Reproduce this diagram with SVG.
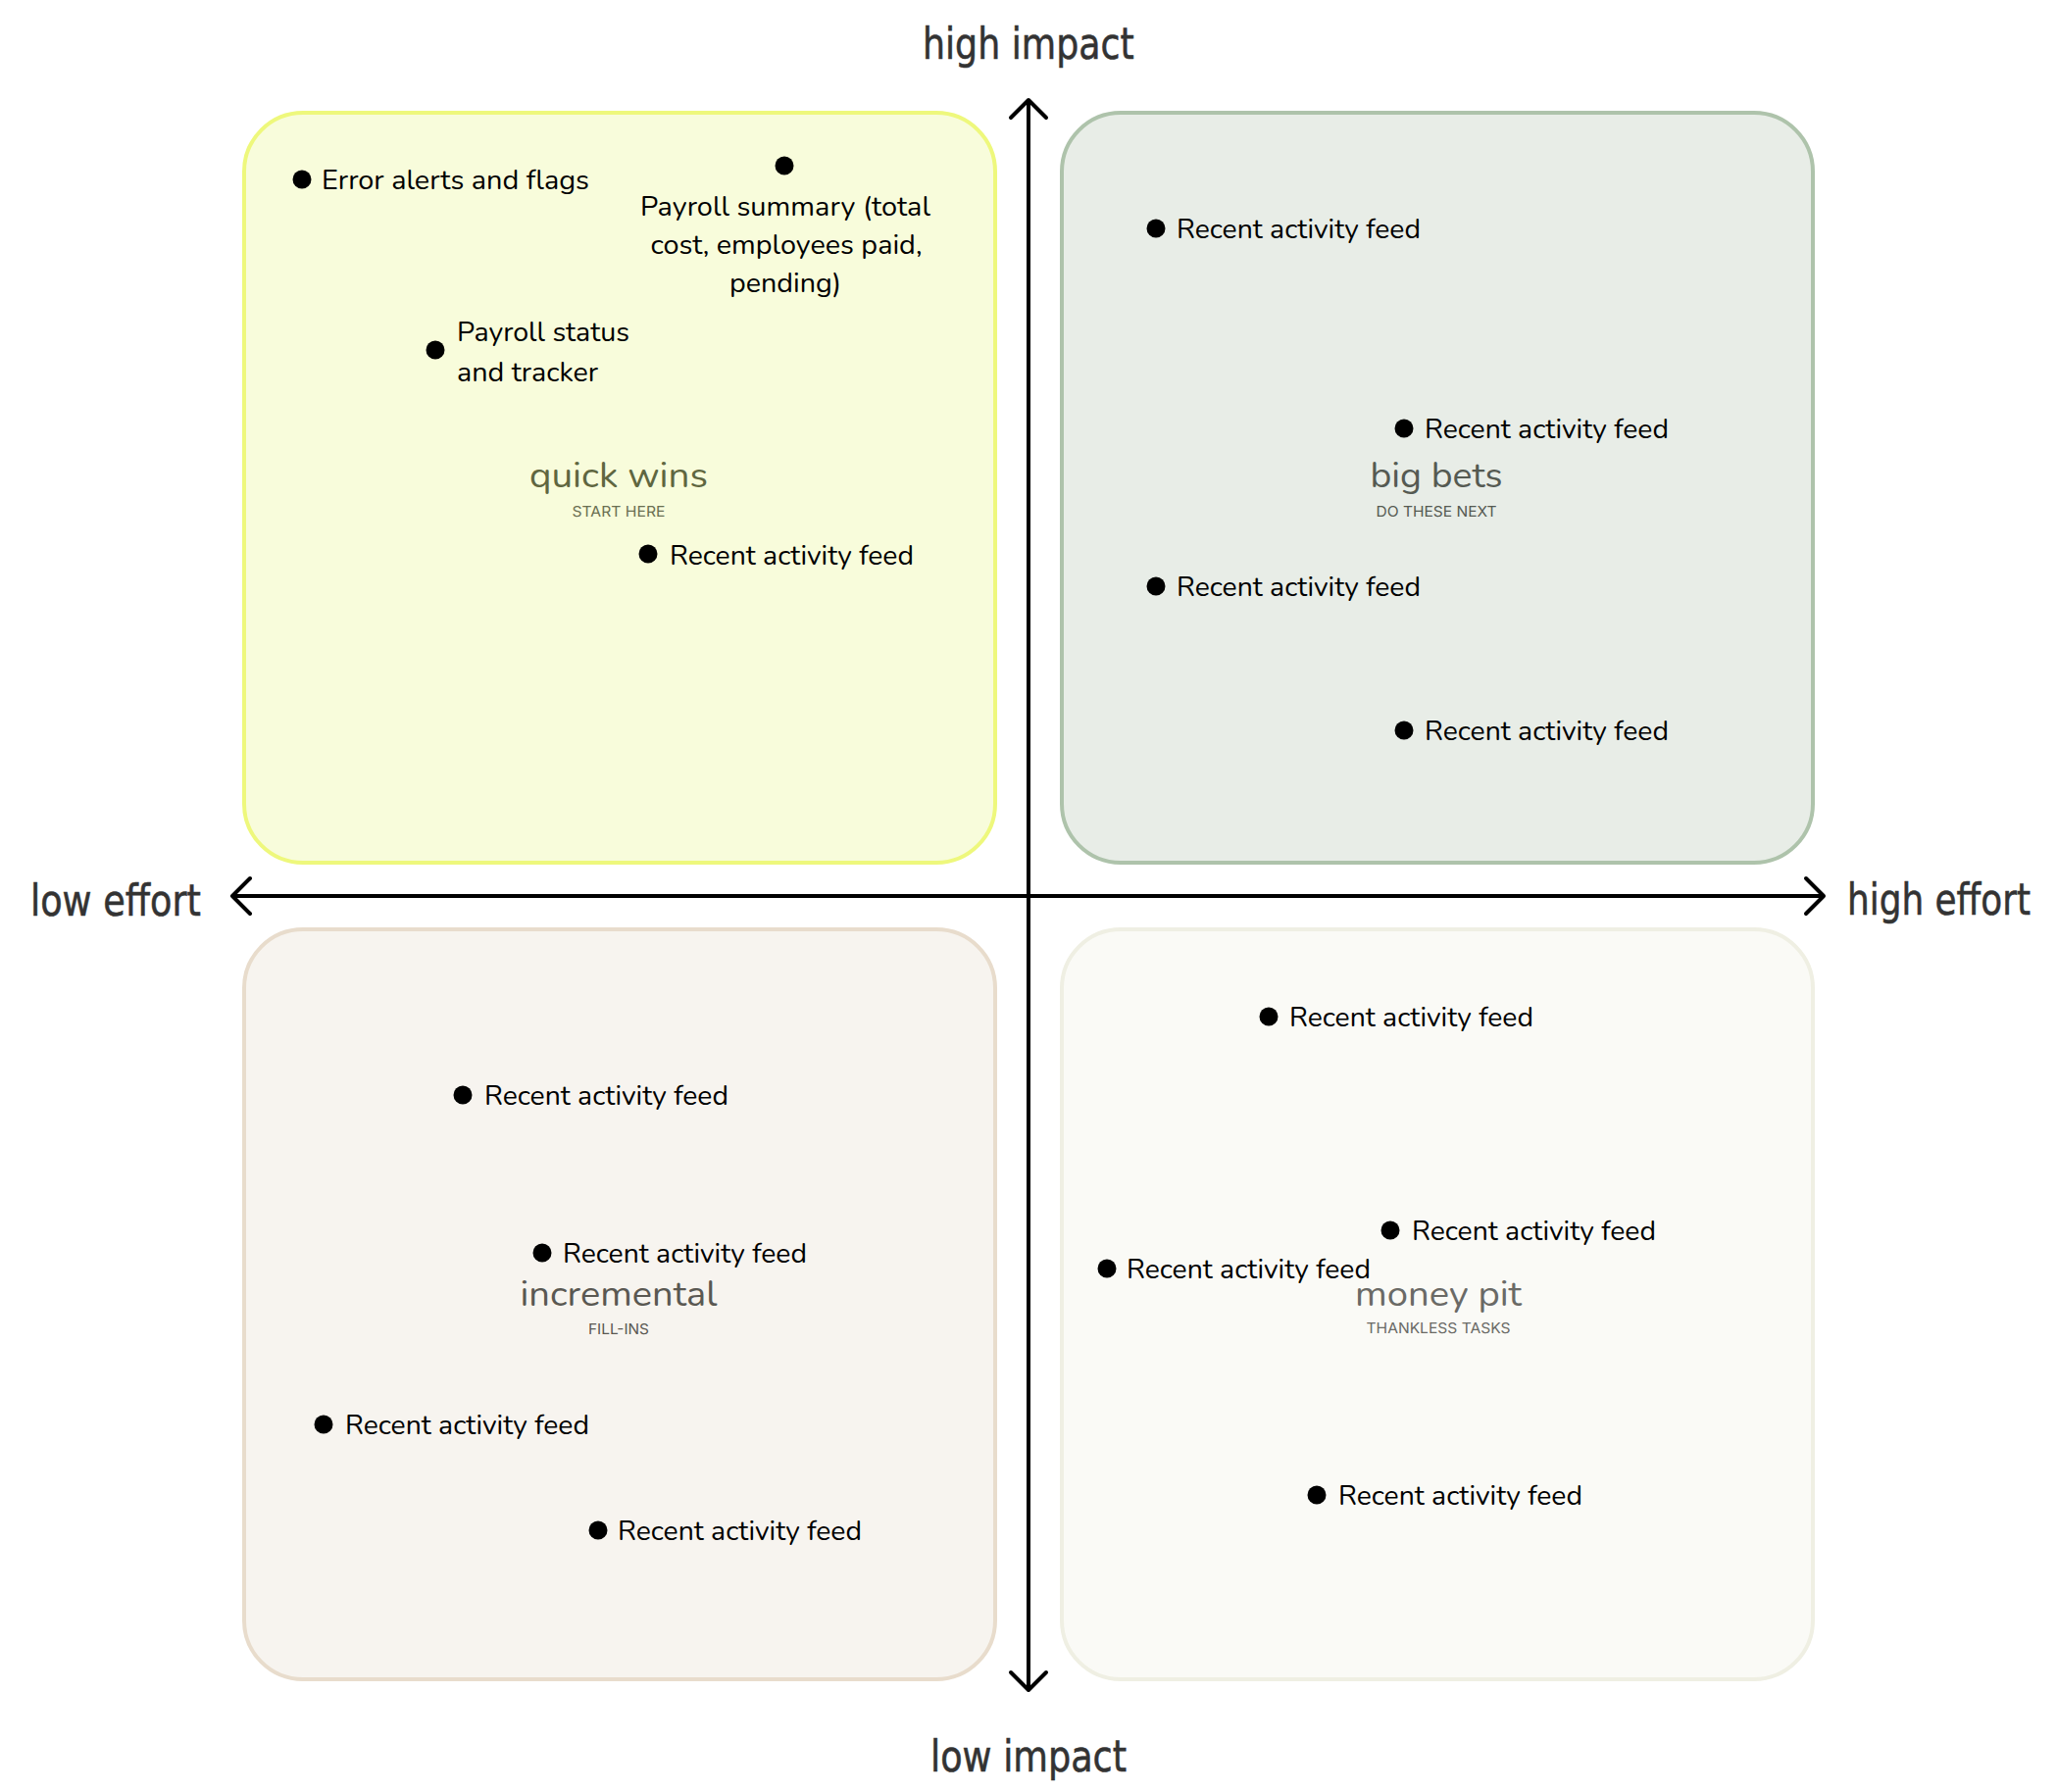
<svg xmlns="http://www.w3.org/2000/svg" width="2098" height="1828" viewBox="0 0 2098 1828">
<defs>
<style>
.box{stroke-width:4}
.item{font-family:Nunito,Lato,"Open Sans",sans-serif;font-size:29px;fill:#000}
.dot{fill:#000}
.title{font-family:Nunito,Lato,"Open Sans",sans-serif;font-size:36px;text-anchor:middle}
.sub{font-family:Inter,Roboto,"Liberation Sans",sans-serif;font-size:15px;text-anchor:middle}
.axis{font-family:"DejaVu Sans","Liberation Sans",sans-serif;font-size:44px;fill:#333;stroke:#333;stroke-width:0.6}
.ax{stroke:#000;stroke-width:4;fill:none}
</style>
<marker id="arr" viewBox="-3 -3 24 42" refX="18" refY="18" markerWidth="24" markerHeight="42" markerUnits="userSpaceOnUse" orient="auto-start-reverse">
<path d="M0,0 L18,18 L0,36" fill="none" stroke="#000" stroke-width="4" stroke-linecap="round" stroke-linejoin="round"/>
</marker>
</defs>
<rect width="2098" height="1828" fill="#fff"/>

<g id="quick-wins">
<rect class="box" x="249" y="115" width="766" height="765" rx="60" fill="#f8fcdb" stroke="#eef87c"/>
<text class="title" x="631" y="497" fill="#5f6640" textLength="182" lengthAdjust="spacingAndGlyphs">quick wins</text>
<text class="sub" x="631" y="527" fill="#6a6f52" textLength="95" lengthAdjust="spacingAndGlyphs">START HERE</text>
</g>
<g id="big-bets">
<rect class="box" x="1083" y="115" width="766" height="765" rx="60" fill="#e8ede7" stroke="#aec3ab"/>
<text class="title" x="1465" y="497" fill="#555a52" textLength="135" lengthAdjust="spacingAndGlyphs">big bets</text>
<text class="sub" x="1465" y="527" fill="#555a52" textLength="123" lengthAdjust="spacingAndGlyphs">DO THESE NEXT</text>
</g>
<g id="incremental">
<rect class="box" x="249" y="948" width="766" height="765" rx="60" fill="#f7f4ef" stroke="#e8dccc"/>
<text class="title" x="631" y="1332" fill="#5a5852" textLength="201" lengthAdjust="spacingAndGlyphs">incremental</text>
<text class="sub" x="631" y="1361" fill="#5a5852" textLength="62" lengthAdjust="spacingAndGlyphs">FILL-INS</text>
</g>
<g id="money-pit">
<rect class="box" x="1083" y="948" width="766" height="765" rx="60" fill="#fafaf6" stroke="#efefe3"/>
<text class="title" x="1467" y="1332" fill="#6a6a66" textLength="170" lengthAdjust="spacingAndGlyphs">money pit</text>
<text class="sub" x="1467" y="1360" fill="#6a6a66" textLength="147" lengthAdjust="spacingAndGlyphs">THANKLESS TASKS</text>
</g>

<g id="connectors">
<line class="ax" x1="237" y1="914" x2="1860" y2="914" marker-start="url(#arr)" marker-end="url(#arr)"/>
<line class="ax" x1="1049" y1="102" x2="1049" y2="1724" marker-start="url(#arr)" marker-end="url(#arr)"/>
</g>

<g id="axis-labels">
<text class="axis" transform="translate(941,60) scale(0.82,1)" x="0" y="0" textLength="263" lengthAdjust="spacingAndGlyphs">high impact</text>
<text class="axis" transform="translate(949,1807) scale(0.82,1)" x="0" y="0" textLength="244" lengthAdjust="spacingAndGlyphs">low impact</text>
<text class="axis" transform="translate(31,934) scale(0.82,1)" x="0" y="0" textLength="212" lengthAdjust="spacingAndGlyphs">low effort</text>
<text class="axis" transform="translate(1884,933) scale(0.82,1)" x="0" y="0" textLength="228" lengthAdjust="spacingAndGlyphs">high effort</text>
</g>

<g id="item-error-alerts"><circle class="dot" cx="308" cy="183" r="9.5"/><text class="item" x="328" y="193" textLength="273" lengthAdjust="spacingAndGlyphs">Error alerts and flags</text></g>
<g id="item-payroll-summary"><circle class="dot" cx="800" cy="169" r="9.5"/>
<text class="item" text-anchor="middle" x="801" y="220" textLength="296" lengthAdjust="spacingAndGlyphs">Payroll summary (total</text>
<text class="item" text-anchor="middle" x="802" y="259" textLength="277" lengthAdjust="spacingAndGlyphs">cost, employees paid,</text>
<text class="item" text-anchor="middle" x="801" y="298" textLength="114" lengthAdjust="spacingAndGlyphs">pending)</text></g>
<g id="item-payroll-status"><circle class="dot" cx="444" cy="357" r="9.5"/>
<text class="item" x="466" y="348" textLength="176" lengthAdjust="spacingAndGlyphs">Payroll status</text>
<text class="item" x="466" y="389" textLength="144" lengthAdjust="spacingAndGlyphs">and tracker</text></g>
<g id="item-qw-feed"><circle class="dot" cx="661" cy="565" r="9.5"/><text class="item" x="683" y="576" textLength="249" lengthAdjust="spacingAndGlyphs">Recent activity feed</text></g>

<g id="item-bb-feed-1"><circle class="dot" cx="1179" cy="233" r="9.5"/><text class="item" x="1200" y="243" textLength="249" lengthAdjust="spacingAndGlyphs">Recent activity feed</text></g>
<g id="item-bb-feed-2"><circle class="dot" cx="1432" cy="437" r="9.5"/><text class="item" x="1453" y="447" textLength="249" lengthAdjust="spacingAndGlyphs">Recent activity feed</text></g>
<g id="item-bb-feed-3"><circle class="dot" cx="1179" cy="598" r="9.5"/><text class="item" x="1200" y="608" textLength="249" lengthAdjust="spacingAndGlyphs">Recent activity feed</text></g>
<g id="item-bb-feed-4"><circle class="dot" cx="1432" cy="745" r="9.5"/><text class="item" x="1453" y="755" textLength="249" lengthAdjust="spacingAndGlyphs">Recent activity feed</text></g>

<g id="item-inc-feed-1"><circle class="dot" cx="472" cy="1117" r="9.5"/><text class="item" x="494" y="1127" textLength="249" lengthAdjust="spacingAndGlyphs">Recent activity feed</text></g>
<g id="item-inc-feed-2"><circle class="dot" cx="553" cy="1278" r="9.5"/><text class="item" x="574" y="1288" textLength="249" lengthAdjust="spacingAndGlyphs">Recent activity feed</text></g>
<g id="item-inc-feed-3"><circle class="dot" cx="330" cy="1453" r="9.5"/><text class="item" x="352" y="1463" textLength="249" lengthAdjust="spacingAndGlyphs">Recent activity feed</text></g>
<g id="item-inc-feed-4"><circle class="dot" cx="610" cy="1561" r="9.5"/><text class="item" x="630" y="1571" textLength="249" lengthAdjust="spacingAndGlyphs">Recent activity feed</text></g>

<g id="item-mp-feed-1"><circle class="dot" cx="1294" cy="1037" r="9.5"/><text class="item" x="1315" y="1047" textLength="249" lengthAdjust="spacingAndGlyphs">Recent activity feed</text></g>
<g id="item-mp-feed-2"><circle class="dot" cx="1418" cy="1255" r="9.5"/><text class="item" x="1440" y="1265" textLength="249" lengthAdjust="spacingAndGlyphs">Recent activity feed</text></g>
<g id="item-mp-feed-3"><circle class="dot" cx="1129" cy="1294" r="9.5"/><text class="item" x="1149" y="1304" textLength="249" lengthAdjust="spacingAndGlyphs">Recent activity feed</text></g>
<g id="item-mp-feed-4"><circle class="dot" cx="1343" cy="1525" r="9.5"/><text class="item" x="1365" y="1535" textLength="249" lengthAdjust="spacingAndGlyphs">Recent activity feed</text></g>
</svg>
